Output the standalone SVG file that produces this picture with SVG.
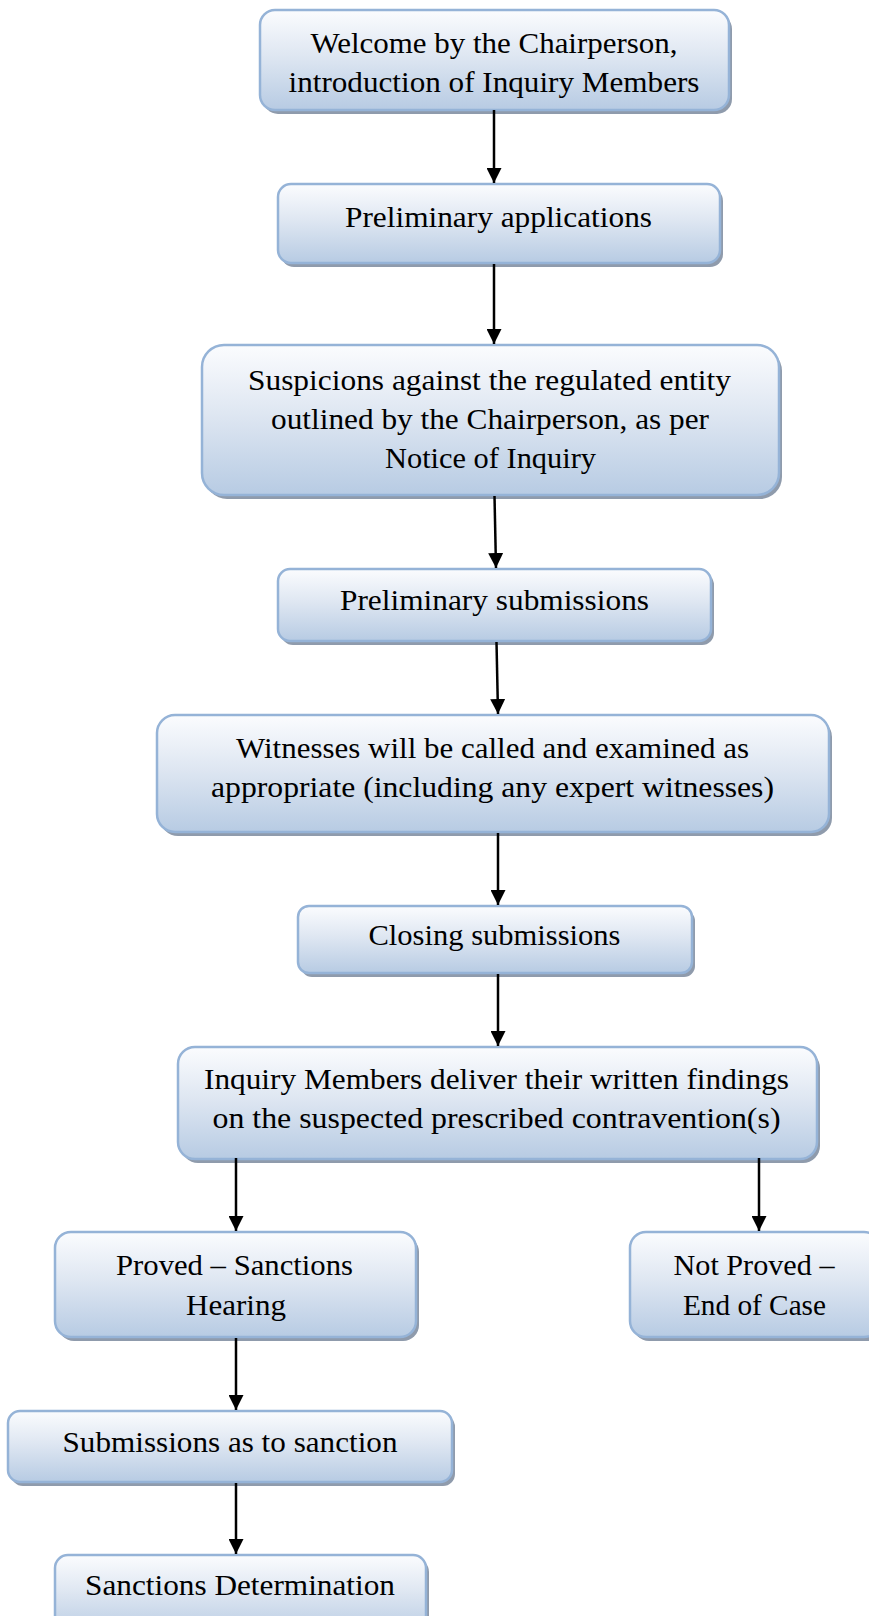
<svg xmlns="http://www.w3.org/2000/svg" width="869" height="1616" viewBox="0 0 869 1616">
<defs>
<linearGradient id="g" x1="0" y1="0" x2="0" y2="1">
<stop offset="0" stop-color="#fbfcfe"/>
<stop offset="0.45" stop-color="#dfe7f2"/>
<stop offset="1" stop-color="#b7cbe3"/>
</linearGradient>
<marker id="ah" markerUnits="userSpaceOnUse" markerWidth="15" markerHeight="15" refX="15" refY="7.5" orient="auto">
<path d="M0,0 L15,7.5 L0,15 z" fill="#000"/>
</marker>
</defs>
<style>
.sh{fill:#8f9bac;}
.bx{fill:url(#g);stroke:#95b3d7;stroke-width:2.5;}
text{font-family:"Liberation Serif","DejaVu Serif",serif;font-size:29px;fill:#000;text-anchor:middle;}
.cn line{stroke:#000;stroke-width:2.5;marker-end:url(#ah);}
</style>
<rect width="869" height="1616" fill="#fff"/>
<g id="n1">
<rect class="sh" x="263" y="14" width="469" height="100" rx="15"/>
<rect class="bx" x="260" y="10" width="469" height="100" rx="15"/>
<text x="494" y="53" textLength="367" lengthAdjust="spacingAndGlyphs">Welcome by the Chairperson,</text>
<text x="494" y="92" textLength="411" lengthAdjust="spacingAndGlyphs">introduction of Inquiry Members</text>
</g>
<g id="n2">
<rect class="sh" x="281" y="188" width="442" height="79" rx="13"/>
<rect class="bx" x="278" y="184" width="442" height="79" rx="13"/>
<text x="498.5" y="227" textLength="307" lengthAdjust="spacingAndGlyphs">Preliminary applications</text>
</g>
<g id="n3">
<rect class="sh" x="205" y="349" width="577" height="150" rx="22"/>
<rect class="bx" x="202" y="345" width="577" height="150" rx="22"/>
<text x="489.5" y="390" textLength="483" lengthAdjust="spacingAndGlyphs">Suspicions against the regulated entity</text>
<text x="490" y="429" textLength="438" lengthAdjust="spacingAndGlyphs">outlined by the Chairperson, as per</text>
<text x="490.5" y="468" textLength="211" lengthAdjust="spacingAndGlyphs">Notice of Inquiry</text>
</g>
<g id="n4">
<rect class="sh" x="281" y="573" width="433" height="72" rx="12"/>
<rect class="bx" x="278" y="569" width="433" height="72" rx="12"/>
<text x="494.5" y="610" textLength="309" lengthAdjust="spacingAndGlyphs">Preliminary submissions</text>
</g>
<g id="n5">
<rect class="sh" x="160" y="719" width="672" height="117" rx="18"/>
<rect class="bx" x="157" y="715" width="672" height="117" rx="18"/>
<text x="492.5" y="758" textLength="513" lengthAdjust="spacingAndGlyphs">Witnesses will be called and examined as</text>
<text x="492.5" y="797" textLength="563" lengthAdjust="spacingAndGlyphs">appropriate (including any expert witnesses)</text>
</g>
<g id="n6">
<rect class="sh" x="301" y="910" width="394" height="67" rx="11"/>
<rect class="bx" x="298" y="906" width="394" height="67" rx="11"/>
<text x="494.5" y="945" textLength="252" lengthAdjust="spacingAndGlyphs">Closing submissions</text>
</g>
<g id="n7">
<rect class="sh" x="181" y="1051" width="639" height="112" rx="17"/>
<rect class="bx" x="178" y="1047" width="639" height="112" rx="17"/>
<text x="496.5" y="1089" textLength="585" lengthAdjust="spacingAndGlyphs">Inquiry Members deliver their written findings</text>
<text x="496.5" y="1128" textLength="568" lengthAdjust="spacingAndGlyphs">on the suspected prescribed contravention(s)</text>
</g>
<g id="n8">
<rect class="sh" x="58" y="1236" width="361" height="105" rx="16"/>
<rect class="bx" x="55" y="1232" width="361" height="105" rx="16"/>
<text x="234.5" y="1275" textLength="237" lengthAdjust="spacingAndGlyphs">Proved – Sanctions</text>
<text x="236" y="1315" textLength="100" lengthAdjust="spacingAndGlyphs">Hearing</text>
</g>
<g id="n9">
<rect class="sh" x="633" y="1236" width="250" height="105" rx="16"/>
<rect class="bx" x="630" y="1232" width="250" height="105" rx="16"/>
<text x="754" y="1275" textLength="161" lengthAdjust="spacingAndGlyphs">Not Proved –</text>
<text x="754.5" y="1315" textLength="143" lengthAdjust="spacingAndGlyphs">End of Case</text>
</g>
<g id="n10">
<rect class="sh" x="11" y="1415" width="444" height="71" rx="12"/>
<rect class="bx" x="8" y="1411" width="444" height="71" rx="12"/>
<text x="230" y="1452" textLength="335" lengthAdjust="spacingAndGlyphs">Submissions as to sanction</text>
</g>
<g id="n11">
<rect class="sh" x="58" y="1559" width="371" height="80" rx="13"/>
<rect class="bx" x="55" y="1555" width="371" height="80" rx="13"/>
<text x="240" y="1595" textLength="310" lengthAdjust="spacingAndGlyphs">Sanctions Determination</text>
</g>
<g id="connectors" class="cn">
<line x1="494" y1="110" x2="494" y2="183"/>
<line x1="494" y1="264" x2="494" y2="344"/>
<line x1="494.5" y1="496" x2="496" y2="568"/>
<line x1="496.5" y1="642" x2="498" y2="714"/>
<line x1="498" y1="833" x2="498" y2="905"/>
<line x1="498" y1="974" x2="498" y2="1046"/>
<line x1="236" y1="1158" x2="236" y2="1231"/>
<line x1="759" y1="1158" x2="759" y2="1231"/>
<line x1="236" y1="1338" x2="236" y2="1410"/>
<line x1="236" y1="1483" x2="236" y2="1554"/>
</g>
</svg>
